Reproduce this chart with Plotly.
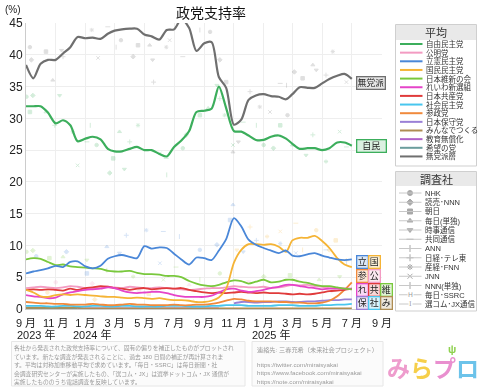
import plotly.graph_objects as go

W, H = 480, 392

# ---------------- data ----------------
dates = [
    "2023-09-01", "2023-09-16", "2023-10-01", "2023-10-16", "2023-11-01", "2023-11-16",
    "2023-12-01", "2023-12-16", "2024-01-01", "2024-01-16", "2024-02-01", "2024-02-16",
    "2024-03-01", "2024-03-16", "2024-04-01", "2024-04-16", "2024-05-01", "2024-05-16",
    "2024-06-01", "2024-06-16", "2024-07-01", "2024-07-16", "2024-08-01", "2024-08-16",
    "2024-09-01", "2024-09-16", "2024-10-01", "2024-10-16", "2024-11-01", "2024-11-16",
    "2024-12-01", "2024-12-16", "2025-01-01", "2025-01-16", "2025-02-01", "2025-02-16",
    "2025-03-01", "2025-03-16", "2025-04-01", "2025-04-16", "2025-05-01", "2025-05-16",
    "2025-06-01", "2025-06-16", "2025-07-01"]

jimin = [31.9, 31.9, 31.9, 30.9, 29.2, 29.7, 28.9, 26.4, 26.8, 27.1, 26.7, 25.2, 24.8, 24.8, 25.2,
         25.5, 25.0, 25.0, 24.4, 24.0, 25.5, 26.5, 28.0, 31.0, 31.2, 31.5, 35.0, 31.6, 28.0, 27.9,
         27.3, 26.6, 26.6, 27.1, 27.3, 26.8, 26.0, 25.2, 25.3, 25.3, 25.0, 25.3, 26.2, 26.2, 25.7]
komei = [3.3, 3.4, 3.5, 3.4, 3.3, 3.4, 3.6, 3.5, 3.3, 3.2, 3.4, 3.5, 3.4, 3.3, 3.5, 3.4, 3.3, 3.3,
         3.4, 3.3, 3.2, 3.1, 3.0, 3.1, 3.2, 3.3, 3.3, 3.4, 3.6, 3.5, 3.4, 3.4, 3.5, 3.3, 3.4, 3.6,
         3.8, 3.7, 3.8, 3.6, 3.5, 3.3, 3.3, 3.2, 3.1]
rikken = [5.6, 5.9, 6.1, 6.4, 6.8, 6.6, 7.4, 7.5, 6.7, 6.4, 6.8, 7.9, 8.3, 8.5, 8.2, 8.0, 9.9, 9.5,
          9.7, 9.6, 8.7, 7.8, 7.0, 8.1, 8.0, 7.7, 9.2, 11.0, 14.3, 13.0, 10.9, 10.1, 9.6, 9.2, 8.8,
          9.2, 8.4, 8.3, 8.6, 8.8, 8.4, 8.1, 7.8, 7.7, 7.8]
kokumin = [3.0, 2.6, 2.0, 1.9, 2.2, 2.3, 2.2, 2.3, 2.2, 2.1, 2.0, 1.9, 1.9, 1.8, 1.7, 1.8, 1.7, 1.6,
           1.7, 1.5, 1.4, 1.4, 1.3, 1.1, 1.1, 1.3, 1.8, 3.2, 7.3, 9.3, 10.2, 10.2, 10.1, 10.2, 9.8,
           9.0, 10.8, 11.2, 11.2, 11.5, 10.7, 9.6, 8.0, 7.0, 6.6]
ishin = [7.8, 8.0, 7.9, 7.4, 6.9, 7.0, 6.7, 6.6, 6.5, 6.4, 6.3, 6.0, 5.9, 5.9, 6.0, 5.7, 5.5, 5.5,
         5.4, 5.2, 5.2, 5.0, 4.4, 4.0, 3.7, 3.6, 3.8, 4.2, 4.5, 4.4, 4.0, 4.3, 4.6, 4.2, 4.3, 4.6,
         4.6, 4.3, 4.1, 3.8, 3.6, 3.6, 3.4, 3.2, 3.1]
reiwa = [2.2, 2.0, 1.9, 1.7, 1.8, 2.3, 2.6, 2.8, 3.0, 3.1, 3.2, 3.4, 3.3, 2.9, 2.6, 2.5, 2.6, 2.7,
         2.7, 2.5, 2.2, 2.0, 1.9, 1.9, 1.9, 2.1, 2.6, 3.1, 3.2, 2.9, 2.7, 2.8, 3.0, 3.3, 3.5, 3.8,
         3.8, 3.6, 3.4, 3.3, 3.1, 3.2, 3.2, 3.2, 3.2]
kyosan = [3.0, 3.1, 3.0, 3.1, 3.0, 2.9, 3.2, 3.0, 3.3, 3.4, 3.6, 3.5, 3.3, 3.2, 3.0, 3.2, 3.3, 3.1,
          3.2, 3.3, 3.2, 3.3, 3.0, 2.8, 2.6, 2.5, 2.6, 2.5, 2.6, 2.7, 2.6, 2.5, 2.6, 2.5, 2.5, 2.4,
          2.3, 2.4, 2.3, 2.4, 2.6, 2.8, 2.9, 3.0, 3.2]
shamin = [0.5, 0.5, 0.5, 0.4, 0.4, 0.5, 0.5, 0.4, 0.4, 0.5, 0.5, 0.4, 0.4, 0.5, 0.5, 0.4, 0.4, 0.4,
          0.4, 0.5, 0.5, 0.5, 0.4, 0.4, 0.4, 0.5, 0.5, 0.6, 0.6, 0.6, 0.5, 0.5, 0.5, 0.5, 0.6, 0.6,
          0.6, 0.5, 0.5, 0.5, 0.6, 0.6, 0.7, 0.7, 0.8]
sansei = [1.1, 1.0, 0.9, 0.9, 0.8, 0.8, 0.7, 0.7, 0.7, 0.8, 0.7, 0.6, 0.6, 0.7, 0.8, 0.7, 0.7, 0.6,
          0.6, 0.6, 0.7, 0.6, 0.6, 0.7, 0.7, 0.8, 1.0, 1.3, 1.6, 1.5, 1.3, 1.2, 1.2, 1.2, 1.1, 1.1,
          1.0, 1.0, 0.9, 0.9, 1.0, 1.3, 2.0, 3.0, 4.2]
hoshu = [None] * 28 + [0.9, 1.1, 1.1, 1.0, 1.1, 1.1, 1.2, 1.2, 1.1, 1.1, 1.2, 1.2, 1.3, 1.4, 1.4,
                       1.5, 1.5]
minna = [0.2, 0.2, 0.2, 0.2, 0.2, 0.2, 0.2, 0.2, 0.1, 0.1, 0.1, 0.1, 0.1, 0.1, 0.1, 0.1, 0.1, 0.1,
         0.1, 0.1, 0.1, 0.1, 0.1, 0.1, 0.1, 0.1, 0.1, 0.1, 0.1, 0.1, 0.1, 0.1, 0.1, 0.1, 0.1, 0.1,
         0.1, 0.1, 0.1, 0.1, 0.1, 0.1, 0.1, 0.1, 0.1]
kyoiku = [None] * 7 + [0.1] * 20 + [None] * 18
kibo = [0.05] * 8 + [None] * 37
mutoha = [38.4, 36.3, 38.6, 39.2, 39.2, 40.2, 41.2, 42.8, 42.6, 42.7, 42.5, 43.3, 43.8, 44.0, 44.1,
          44.1, 43.2, 42.9, 42.4, 43.9, 44.0, 45.6, 44.2, 40.6, 41.8, 42.0, 36.5, 34.8, 29.0, 29.8,
          32.9, 33.6, 33.8, 33.5, 33.4, 33.0, 33.8, 34.9, 34.8, 34.8, 35.5, 36.2, 36.7, 37.0, 36.2]

# individual poll results (faint points)
mutoha_pt_d = ["2023-09-09", "2023-09-12", "2023-10-12", "2023-10-26", "2023-11-13", "2023-11-16",
               "2024-01-14", "2024-01-27", "2024-02-16", "2024-03-04", "2024-03-14", "2024-04-08",
               "2024-04-18", "2024-05-12", "2024-05-18", "2024-05-20", "2024-06-15", "2024-06-22",
               "2024-07-19", "2024-08-23", "2024-09-13", "2024-10-03", "2024-10-16", "2024-10-30",
               "2024-11-10", "2024-12-04", "2024-12-24", "2025-01-14", "2025-02-04", "2025-02-17",
               "2025-02-19", "2025-03-05", "2025-03-22", "2025-04-12", "2025-04-19", "2025-05-09",
               "2025-05-23", "2025-06-20"]
mutoha_pt_v = [41.2, 39.2, 40.5, 36.0, 40.7, 39.7, 43.9, 39.5, 44.4, 41.2, 42.3, 39.7, 41.5, 41.5,
               39.2, 35.7, 41.2, 42.3, 39.7, 43.9, 43.6, 39.2, 35.7, 24.7, 26.3, 34.2, 31.8, 31.0,
               35.5, 35.2, 30.5, 37.3, 36.3, 38.4, 37.6, 36.8, 40.5, 35.7]
jimin_pt_d = ["2023-09-02", "2023-09-15", "2023-09-09", "2023-10-12", "2023-11-09", "2023-10-30",
              "2023-12-06", "2023-12-16", "2024-01-04", "2024-01-11", "2024-01-24", "2024-02-20",
              "2024-02-27", "2024-03-11", "2024-03-21", "2024-04-01", "2024-04-18", "2024-06-02",
              "2024-06-15", "2024-06-16", "2024-07-19", "2024-07-26", "2024-08-23", "2024-09-09",
              "2024-09-27", "2024-10-03", "2024-10-13", "2024-10-30", "2024-11-20", "2024-12-17",
              "2025-01-01", "2025-01-21", "2025-02-04", "2025-03-01", "2025-03-29", "2025-04-12",
              "2025-05-09", "2025-06-06", "2025-06-20"]
jimin_pt_v = [33.4, 33.6, 31.0, 31.0, 33.6, 28.9, 27.9, 22.6, 26.3, 28.9, 25.8, 21.4, 23.7, 27.9,
              22.0, 26.3, 28.9, 24.5, 23.7, 21.1, 25.3, 27.4, 30.5, 31.6, 35.2, 33.1, 30.5, 25.8,
              29.4, 28.9, 25.8, 25.3, 28.9, 25.8, 24.2, 27.4, 23.2, 27.9, 25.5]
rikken_pt_d = ["2023-09-22", "2023-11-23", "2024-01-04", "2024-02-14", "2024-03-11", "2024-03-25",
               "2024-05-05", "2024-06-02", "2024-06-09", "2024-07-12", "2024-08-23", "2024-09-27",
               "2024-10-24", "2024-10-30", "2024-11-20", "2024-12-17", "2025-02-04", "2025-03-08",
               "2025-05-09", "2025-06-20"]
rikken_pt_v = [8.3, 9.0, 5.6, 9.8, 8.8, 11.6, 12.4, 7.2, 12.2, 11.4, 9.3, 10.1, 14.0, 16.4, 9.0,
               10.8, 10.3, 8.8, 9.3, 7.2]
kokumin_pt_d = ["2023-10-15", "2024-01-20", "2024-05-10", "2024-08-10", "2024-11-07", "2024-12-04",
                "2025-01-08", "2025-02-04", "2025-03-08", "2025-03-22", "2025-04-19", "2025-05-16",
                "2025-05-29", "2025-06-20"]
kokumin_pt_v = [2.6, 1.5, 2.4, 1.2, 9.3, 12.9, 11.4, 12.2, 13.5, 9.3, 12.4, 9.3, 10.8, 7.7]
ishin_pt_d = ["2023-09-02", "2023-09-15", "2023-10-19", "2023-11-16", "2024-01-04", "2024-02-14",
              "2024-04-08", "2024-06-09", "2024-07-05", "2024-08-23", "2024-10-03", "2025-01-01",
              "2025-02-24", "2025-04-25", "2025-06-06"]
ishin_pt_v = [9.0, 9.2, 8.0, 8.2, 7.7, 6.1, 5.1, 4.6, 6.6, 4.6, 5.6, 5.1, 5.3, 4.6, 5.1]
komei_pt_d = ["2023-11-01", "2024-01-15", "2024-04-20", "2024-08-01", "2024-12-01", "2025-03-10",
              "2025-05-20"]
komei_pt_v = [4.2, 4.0, 2.8, 3.8, 4.3, 4.5, 2.8]

x_tick_vals = ["2023-09-01", "2023-11-01", "2024-01-01", "2024-03-01", "2024-05-01", "2024-07-01",
               "2024-09-01", "2024-11-01", "2025-01-01", "2025-03-01", "2025-05-01", "2025-07-01",
               "2025-09-01"]
x_tick_text = ["9 月", "11 月", "1 月", "3 月", "5 月", "7 月", "9 月", "11 月",
               "1 月", "3 月", "5 月", "7 月", "9 月"]
year_labels = ["2023 年", "2024 年", "2025 年"]

party_names = ["自由民主党", "公明党", "立憲民主党", "国民民主党", "日本維新の会", "れいわ新選組",
               "日本共産党", "社会民主党", "参政党", "日本保守党", "みんなでつくる", "教育無償化",
               "希望の党", "無党派層"]
party_values = [jimin, komei, rikken, kokumin, ishin, reiwa, kyosan, shamin, sansei, hoshu, minna,
                kyoiku, kibo, mutoha]
party_colors = ["#3cae5c", "#f39bc2", "#4a87d8", "#f5b436", "#79c83d", "#e544c9", "#e03b3b",
                "#48c6ee", "#f08a3c", "#9a80d6", "#ae8d52", "#b062c8", "#6b9d9d", "#6f6f6f"]

pollster_names = ["NHK", "読売･NNN", "朝日", "毎日(単独)", "時事通信", "共同通信", "ANN", "日経･テレ東",
                  "産経･FNN", "JNN", "NNN(単独)", "毎日･SSRC", "選コム･JX通信"]
pollster_symbols = ["circle", "diamond", "square", "triangle-up", "triangle-down", "line-ew",
                    "line-ns", "cross-thin", "asterisk", "x-thin", "cross-thin", None, None]

# ---------------- helpers ----------------
def fx(px):
    return px / W


def fy(py):
    return 1 - py / H


FONT = "Liberation Sans, Arial, Noto Sans CJK JP, sans-serif"
fig = go.Figure()

# faint poll points
dot_syms = ["circle", "diamond", "square", "triangle-up", "triangle-down", "cross-thin",
            "asterisk", "x-thin", "line-ew", "line-ns"]
pt_sets = [(mutoha_pt_d, mutoha_pt_v, party_colors[13]), (jimin_pt_d, jimin_pt_v, party_colors[0]),
           (rikken_pt_d, rikken_pt_v, party_colors[2]), (kokumin_pt_d, kokumin_pt_v, party_colors[3]),
           (ishin_pt_d, ishin_pt_v, party_colors[4]), (komei_pt_d, komei_pt_v, party_colors[1])]
for d, v, c in pt_sets:
    fig.add_trace(go.Scatter(
        x=d, y=v, mode="markers", opacity=0.22, hoverinfo="skip", showlegend=False,
        marker=dict(size=3.5, color=c, symbol=[dot_syms[i % len(dot_syms)] for i in range(len(d))],
                    line=dict(color=c, width=1))))

# average lines (draw small parties first, main ones on top)
order = [12, 11, 10, 9, 7, 8, 1, 6, 5, 4, 3, 2, 0, 13]
for i in order:
    main = i in (0, 13)
    fig.add_trace(go.Scatter(
        x=dates, y=party_values[i], mode="lines", name=party_names[i], showlegend=False,
        hoverinfo="skip", connectgaps=False,
        line=dict(color=party_colors[i], width=2.2 if main else 1.8, shape="spline", smoothing=0.8)))

# axes
fig.update_layout(
    width=W, height=H, margin=dict(l=0, r=0, t=0, b=0),
    paper_bgcolor="white", plot_bgcolor="rgba(0,0,0,0)",
    font=dict(family=FONT, color="#222"),
    showlegend=False,
    xaxis=dict(domain=[fx(26), fx(382)], range=["2023-09-01", "2025-09-01"], type="date",
               tickmode="array", tickvals=x_tick_vals, ticktext=x_tick_text, tickangle=0,
               ticklabelstandoff=4,
               tickfont=dict(size=11, color="#222"), showgrid=True, gridcolor="#eeeeee",
               gridwidth=1, showline=True, linecolor="#cccccc", ticks="", zeroline=False,
               automargin=False, anchor="y"),
    yaxis=dict(domain=[fy(309), fy(23)], range=[0, 45], dtick=5, tickfont=dict(size=12, color="#222"),
               showgrid=True, gridcolor="#eeeeee", showline=True, linecolor="#cccccc", ticks="",
               zeroline=False, automargin=False, anchor="x"),
    xaxis2=dict(domain=[0, 1], range=[0, W], visible=False, anchor="y2", fixedrange=True),
    yaxis2=dict(domain=[0, 1], range=[H, 0], visible=False, anchor="x2", fixedrange=True),
)

shapes = []
annotations = []

# title and unit
annotations.append(dict(x=fx(211), y=fy(13), xref="paper", yref="paper", text="政党支持率",
                        showarrow=False, font=dict(size=14, color="#111"), xanchor="center",
                        yanchor="middle"))
annotations.append(dict(x=fx(3), y=fy(10), xref="paper", yref="paper", text="(%)",
                        showarrow=False, font=dict(size=10, color="#222"), xanchor="left",
                        yanchor="middle"))

# year labels under the month ticks
for t, xx in zip(year_labels, [16, 72, 251]):
    annotations.append(dict(x=fx(xx), y=fy(334), xref="paper", yref="paper", text=t,
                            showarrow=False, font=dict(size=11, color="#222"), xanchor="left",
                            yanchor="middle", borderpad=0))

# ------------ right-side labels ------------
def tint(hexc, a):
    r, g, b = int(hexc[1:3], 16), int(hexc[3:5], 16), int(hexc[5:7], 16)
    r = int(r * a + 255 * (1 - a)); g = int(g * a + 255 * (1 - a)); b = int(b * a + 255 * (1 - a))
    return f"#{r:02x}{g:02x}{b:02x}"


big_labels = [("無党派", 371, 82.5, party_colors[13], 25), ("自民", 371.5, 146, party_colors[0], 26)]
for t, cx, cy, c, w in big_labels:
    annotations.append(dict(x=fx(cx), y=fy(cy), xref="paper", yref="paper", text=t, showarrow=False,
                            font=dict(size=9, color="#222"), bgcolor=tint(c, 0.18), bordercolor=c,
                            borderwidth=1.3, borderpad=1, width=w, height=9,
                            xanchor="center", yanchor="middle"))

small_labels = [("立", 0, 0, 2), ("国", 1, 0, 3), ("参", 0, 1, 8), ("公", 1, 1, 1), ("れ", 0, 2, 5),
                ("共", 1, 2, 6), ("維", 2, 2, 4), ("保", 0, 3, 9), ("社", 1, 3, 7), ("み", 2, 3, 10)]
col_x = [362, 374.3, 386.3]
row_y = [261.5, 276, 290, 303]
for t, cidx, ridx, pidx in small_labels:
    c = party_colors[pidx]
    annotations.append(dict(x=fx(col_x[cidx]), y=fy(row_y[ridx]), xref="paper", yref="paper", text=t,
                            showarrow=False, font=dict(size=9, color="#222"),
                            bgcolor=tint(c, 0.2), bordercolor=c, borderwidth=1.3, borderpad=0.5,
                            width=9, height=10, xanchor="center", yanchor="middle"))

# ------------ legend 1 (平均) ------------
shapes.append(dict(type="rect", xref="paper", yref="paper", x0=fx(395.5), x1=fx(476.5),
                   y0=fy(166), y1=fy(24.5), line=dict(color="#cfcfcf", width=1), fillcolor="white",
                   layer="below"))
shapes.append(dict(type="rect", xref="paper", yref="paper", x0=fx(396), x1=fx(476),
                   y0=fy(40), y1=fy(25), line=dict(width=0), fillcolor="#e9e9e9", layer="below"))
annotations.append(dict(x=fx(436), y=fy(32.5), xref="paper", yref="paper", text="平均",
                        showarrow=False, font=dict(size=11, color="#333"), xanchor="center",
                        yanchor="middle"))
for i, (nm, c) in enumerate(zip(party_names, party_colors)):
    yy = 44 + i * 8.65
    shapes.append(dict(type="line", xref="paper", yref="paper", x0=fx(400), x1=fx(422.5),
                       y0=fy(yy), y1=fy(yy), line=dict(color=c, width=2)))
    annotations.append(dict(x=fx(425), y=fy(yy), xref="paper", yref="paper", text=nm,
                            showarrow=False, font=dict(size=7.5, color="#333"), xanchor="left",
                            yanchor="middle", borderpad=0))

# ------------ legend 2 (調査社) ------------
shapes.append(dict(type="rect", xref="paper", yref="paper", x0=fx(395.5), x1=fx(476.5),
                   y0=fy(311), y1=fy(171.5), line=dict(color="#cfcfcf", width=1), fillcolor="white",
                   layer="below"))
shapes.append(dict(type="rect", xref="paper", yref="paper", x0=fx(396), x1=fx(476),
                   y0=fy(186), y1=fy(172), line=dict(width=0), fillcolor="#e9e9e9", layer="below"))
annotations.append(dict(x=fx(436), y=fy(179), xref="paper", yref="paper", text="調査社",
                        showarrow=False, font=dict(size=11, color="#333"), xanchor="center",
                        yanchor="middle"))
leg_x, leg_y, leg_s = [], [], []
for i, (nm, sym) in enumerate(zip(pollster_names, pollster_symbols)):
    yy = 193 + i * 9.25
    shapes.append(dict(type="line", xref="paper", yref="paper", x0=fx(399), x1=fx(421.5),
                       y0=fy(yy), y1=fy(yy), line=dict(color="#c8c8c8", width=1)))
    annotations.append(dict(x=fx(424), y=fy(yy), xref="paper", yref="paper", text=nm,
                            showarrow=False, font=dict(size=7.5, color="#333"), xanchor="left",
                            yanchor="middle", borderpad=0))
    if sym is not None:
        leg_x.append(410)
        leg_y.append(yy)
        leg_s.append(sym)
    else:
        annotations.append(dict(x=fx(410), y=fy(yy), xref="paper", yref="paper",
                                text="H" if i == 11 else "I", showarrow=False,
                                font=dict(size=6.5, color="#999",
                                          family="DejaVu Sans" if i == 11 else "DejaVu Serif"),
                                xanchor="center", yanchor="middle", bgcolor="white", borderpad=0))
fig.add_trace(go.Scatter(x=leg_x, y=leg_y, xaxis="x2", yaxis="y2", mode="markers",
                         hoverinfo="skip", showlegend=False,
                         marker=dict(size=5, color="#a8a8a8", symbol=leg_s,
                                     line=dict(color="#a8a8a8", width=1))))

# ------------ bottom notes ------------
shapes.append(dict(type="rect", xref="paper", yref="paper", x0=fx(11.5), x1=fx(245),
                   y0=fy(386), y1=fy(341.5), line=dict(color="#e6e6e6", width=1),
                   fillcolor="#fbfbfb", layer="below"))
shapes.append(dict(type="rect", xref="paper", yref="paper", x0=fx(252), x1=fx(383),
                   y0=fy(386), y1=fy(341.5), line=dict(color="#e6e6e6", width=1),
                   fillcolor="#fbfbfb", layer="below"))
note_lines = ["各社から発表された政党支持率について、固有の偏りを補正したものがプロットされ",
              "ています。新たな調査が発表されることに、過去 180 日間の補正が再計算されま",
              "す。平均は対称加重移動平均で求めています。「毎日・SSRC」は毎日新聞・社",
              "会調査研究センターが実施したもの、「選コム・JX」は選挙ドットコム・JX 通信が",
              "実施したもののうち電話調査を反映しています。"]
for i, t in enumerate(note_lines):
    annotations.append(dict(x=fx(13), y=fy(348 + i * 8.5), xref="paper", yref="paper", text=t,
                            showarrow=False, font=dict(size=5.8, color="#9a9a9a"), xanchor="left",
                            yanchor="middle", borderpad=0))
contact_lines = [("連絡先: 三春充希（未来社会プロジェクト）", 350),
                 ("https://twitter.com/miraisyakai", 364),
                 ("https://www.facebook.com/miraisyakai", 372.7),
                 ("https://note.com/miraisyakai", 381.3)]
for t, yy in contact_lines:
    annotations.append(dict(x=fx(256), y=fy(yy), xref="paper", yref="paper", text=t,
                            showarrow=False, font=dict(size=6.2, color="#9a9a9a"), xanchor="left",
                            yanchor="middle", borderpad=0))

# logo
logo = ("<b><span style='color:#ee9ccd'>み</span><span style='color:#f6cf4a'>ら</span>"
        "<span style='color:#e98fcf'>プ</span><span style='color:#6cc3ea'>ロ</span></b>")
annotations.append(dict(x=fx(433), y=fy(369), xref="paper", yref="paper", text=logo,
                        showarrow=False, font=dict(size=23), xanchor="center", yanchor="middle"))
annotations.append(dict(x=fx(452), y=fy(349), xref="paper", yref="paper", text="<b>ψ</b>",
                        showarrow=False, font=dict(size=11, color="#8fd14f"), xanchor="center",
                        yanchor="middle"))

fig.update_layout(shapes=shapes, annotations=annotations)
fig.write_html("out.html", config={"displayModeBar": False, "staticPlot": True},
               post_script="document.body.style.margin='0px';document.body.style.overflow='hidden';")
